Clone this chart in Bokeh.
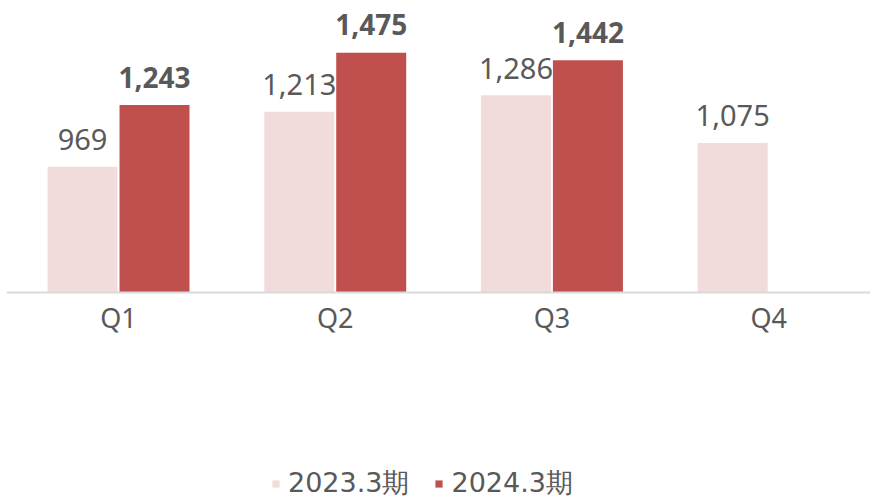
from bokeh.plotting import figure
from bokeh.models import ColumnDataSource, Range1d, FixedTicker, Legend, LegendItem
from bokeh.core.properties import value
from bokeh.embed import file_html
from bokeh.resources import INLINE

# ---- data ----
quarters = ["Q1", "Q2", "Q3", "Q4"]
fy2023 = [969, 1213, 1286, 1075]
fy2024 = [1243, 1475, 1442]
series_names = ["2023.3期", "2024.3期"]

# ---- style ----
C_LIGHT = "#F2DCDB"
C_RED = "#C0504D"
TXT = "#595959"
Y_BASE = 409
BAR_W = 0.323
OFF = 0.166

idx = list(range(len(quarters)))
src23 = ColumnDataSource(dict(
    x=[i - OFF for i in idx], top=fy2023,
    lab=[f"{v:,}" for v in fy2023]))
src24 = ColumnDataSource(dict(
    x=[i + OFF for i in idx[:len(fy2024)]], top=fy2024,
    lab=[f"{v:,}" for v in fy2024]))

p = figure(width=870, height=499, output_backend="svg", toolbar_location=None,
           x_range=Range1d(-0.517, 3.470), y_range=Range1d(-508, 1707),
           y_axis_location=None, min_border=0, min_border_left=6)
p.outline_line_color = None
p.xgrid.visible = False
p.ygrid.visible = False
p.background_fill_color = "white"

r1 = p.vbar(x="x", top="top", bottom=Y_BASE, width=BAR_W, source=src23,
            fill_color=C_LIGHT, line_color=None)
r2 = p.vbar(x="x", top="top", bottom=Y_BASE, width=BAR_W, source=src24,
            fill_color=C_RED, line_color=None)

p.text(x="x", y="top", text="lab", source=src23, y_offset=-27,
       text_align="center", text_baseline="alphabetic",
       text_font=value("Noto Sans"), text_font_size="29px", text_color=TXT)
p.text(x="x", y="top", text="lab", source=src24, y_offset=-28,
       text_align="center", text_baseline="alphabetic",
       text_font=value("Noto Sans"), text_font_size="28px",
       text_font_style="bold", text_color=TXT)

ax = p.xaxis[0]
ax.fixed_location = Y_BASE
ax.ticker = FixedTicker(ticks=idx)
ax.major_label_overrides = {i: q for i, q in zip(idx, quarters)}
ax.axis_line_color = "#D9D9D9"
ax.axis_line_width = 2
ax.major_tick_line_color = None
ax.minor_tick_line_color = None
ax.major_label_text_font = "Noto Sans"
ax.major_label_text_font_size = "27px"
ax.major_label_text_color = TXT
ax.major_label_standoff = 0

legend = Legend(items=[LegendItem(label=series_names[0], renderers=[r1]),
                       LegendItem(label=series_names[1], renderers=[r2])],
                orientation="horizontal", location=(265, -2),
                glyph_width=9, glyph_height=9, label_standoff=8, spacing=25,
                padding=0, margin=0, border_line_color=None,
                background_fill_alpha=0,
                label_text_font="DejaVu Sans", label_text_font_size="27px",
                label_text_color=TXT)
p.add_layout(legend, "center")

open("out.html", "w").write(file_html(p, INLINE))
